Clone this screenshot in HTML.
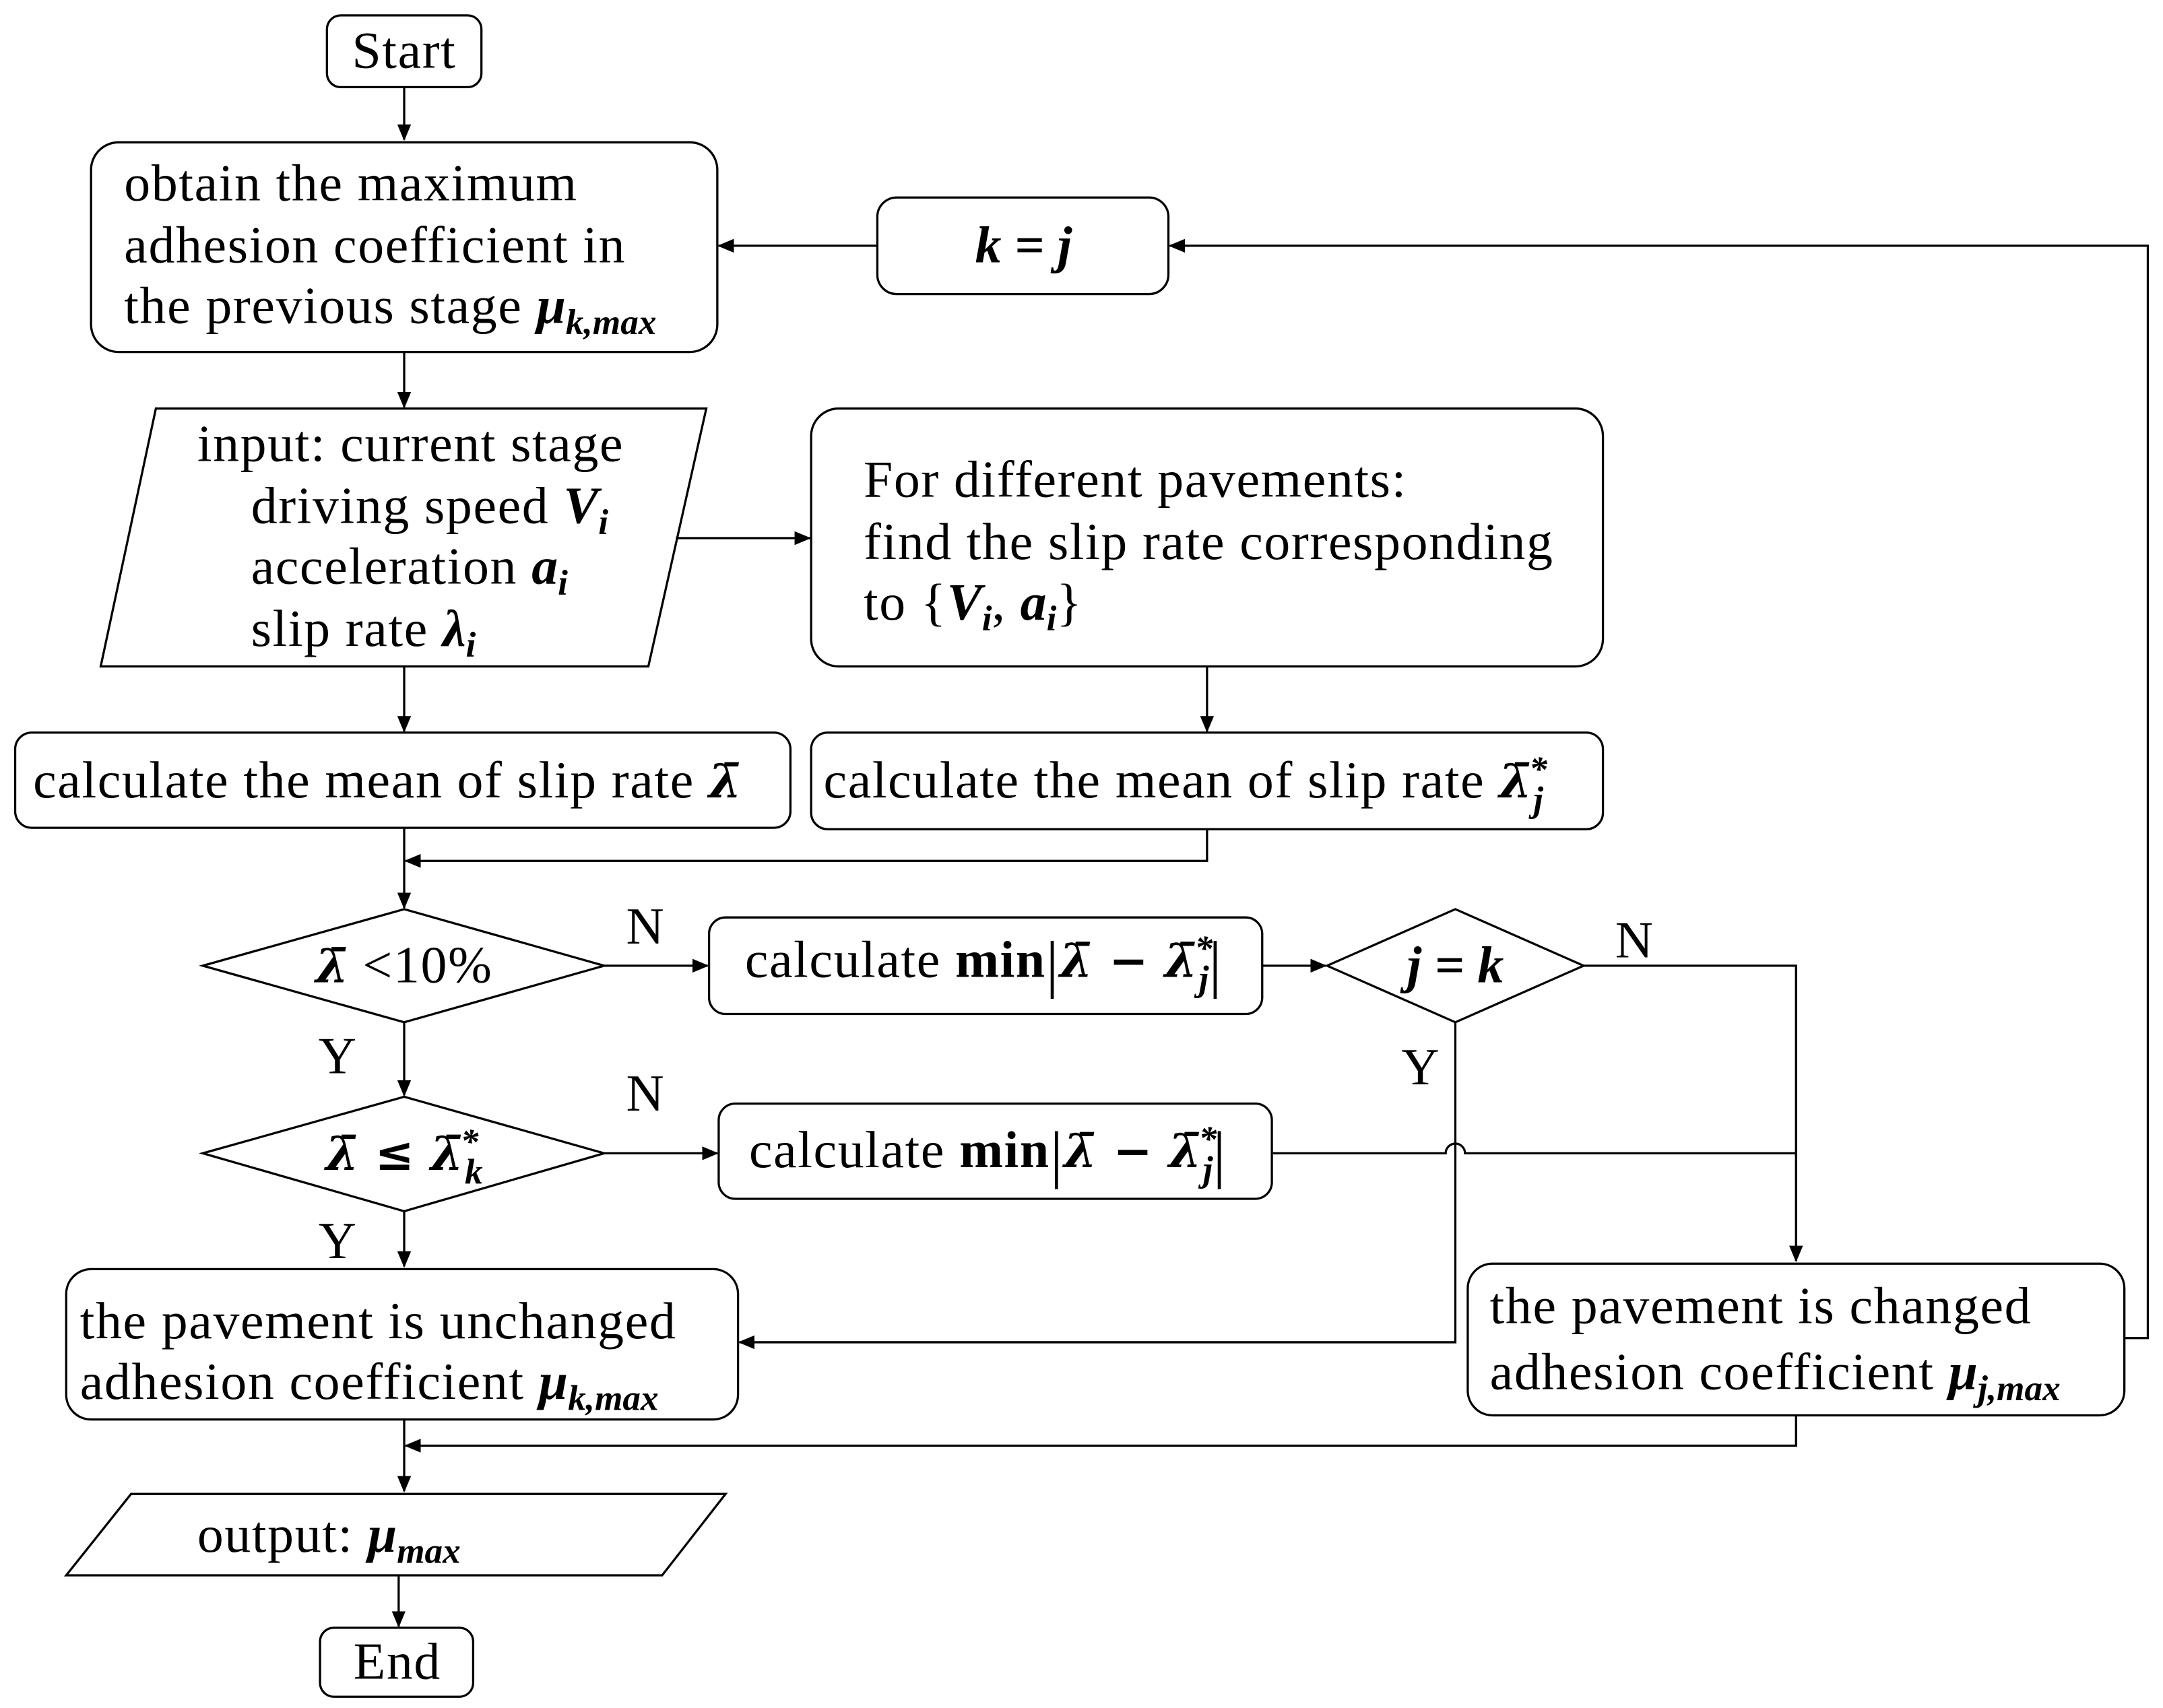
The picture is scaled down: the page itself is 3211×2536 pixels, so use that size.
<!DOCTYPE html>
<html><head><meta charset="utf-8">
<style>
html,body{margin:0;padding:0;background:#fff;}
svg{display:block;}
text{font-family:"Liberation Serif","DejaVu Serif",serif;font-size:38px;letter-spacing:0.8px;fill:#000;}
.m{font-style:italic;font-weight:bold;letter-spacing:0;}
.l{font-family:"DejaVu Serif",serif;font-style:italic;font-weight:bold;letter-spacing:0;font-size:34px;}
.s{font-size:26px;letter-spacing:0;}
</style></head>
<body>
<svg width="3211" height="2536" viewBox="0 0 1568 1238" xmlns="http://www.w3.org/2000/svg">
<defs>
<marker id="a" markerWidth="12" markerHeight="10" refX="11" refY="5" orient="auto" markerUnits="userSpaceOnUse">
<path d="M0,0 L12,5 L0,10 z" fill="#000"/>
</marker>
</defs>
<g fill="none" stroke="#000" stroke-width="1.6">
<rect x="237" y="11" width="112" height="52" rx="10"/>
<rect x="66" y="103" width="454" height="152" rx="20"/>
<rect x="636" y="143" width="211" height="70" rx="14"/>
<polygon points="113,296 512,296 470,483 73,483"/>
<rect x="588" y="296" width="574" height="187" rx="20"/>
<rect x="11" y="531" width="562" height="69" rx="12"/>
<rect x="588" y="531" width="574" height="70" rx="12"/>
<polygon points="147,700 293,659 438,700 293,741"/>
<rect x="514" y="665" width="401" height="70" rx="12"/>
<polygon points="962,700 1055,659 1148,700 1055,741"/>
<polygon points="147,836 293,795 438,836 293,878"/>
<rect x="521" y="800" width="401" height="69" rx="12"/>
<rect x="48" y="920" width="487" height="109" rx="18"/>
<rect x="1064" y="916" width="476" height="110" rx="18"/>
<polygon points="95,1083 526,1083 480,1142 48,1142"/>
<rect x="232" y="1180" width="111" height="50" rx="10"/>
</g>
<g fill="none" stroke="#000" stroke-width="1.6" marker-end="url(#a)">
<path d="M293,63 V101"/>
<path d="M636,178 H521"/>
<path d="M1540,970 H1557 V178 H848"/>
<path d="M293,255 V295"/>
<path d="M490,390 H587"/>
<path d="M293,483 V530"/>
<path d="M875,483 V530"/>
<path d="M875,601 V624 H294"/>
<path d="M293,600 V658"/>
<path d="M438,700 H513"/>
<path d="M915,700 H961"/>
<path d="M1148,700 H1302 V914"/>
<path d="M1055,741 V973 H536"/>
<path d="M293,741 V794"/>
<path d="M438,836 H520"/>
<path d="M293,878 V918"/>
<path d="M293,1029 V1081"/>
<path d="M1302,1026 V1048 H294"/>
<path d="M289,1142 V1179"/>
</g>
<path d="M922,836 H1048 A7,7 0 0 1 1062,836 H1302" fill="none" stroke="#000" stroke-width="1.6"/>

<text x="293" y="49" text-anchor="middle">Start</text>
<text x="90" y="145">obtain the maximum</text>
<text x="90" y="190">adhesion coefficient in</text>
<text x="90" y="234">the previous stage <tspan class="m">μ</tspan><tspan class="m s" dy="8">k,max</tspan></text>
<text x="742" y="190" text-anchor="middle" class="m">k = j</text>
<text x="143" y="334">input: current stage</text>
<text x="182" y="379">driving speed <tspan class="m">V</tspan><tspan class="m s" dy="8">i</tspan></text>
<text x="182" y="423">acceleration <tspan class="m">a</tspan><tspan class="m s" dy="8">i</tspan></text>
<text x="182" y="468">slip rate <tspan class="m">λ</tspan><tspan class="m s" dy="8">i</tspan></text>
<text x="626" y="360">For different pavements:</text>
<text x="626" y="405">find the slip rate corresponding</text>
<text x="626" y="449">to {<tspan class="m">V</tspan><tspan class="m s" dy="8">i</tspan><tspan dy="-8">, </tspan><tspan class="m">a</tspan><tspan class="m s" dy="8">i</tspan><tspan dy="-8">}</tspan></text>
<text x="24" y="578">calculate the mean of slip rate <tspan class="l">λ̄</tspan></text>
<text x="597" y="578">calculate the mean of slip rate <tspan class="l">λ̄</tspan><tspan class="m s" dx="-2" dy="-12">*</tspan><tspan class="m s" dx="-10" dy="22">j</tspan></text>
<text x="293" y="712" text-anchor="middle"><tspan class="l">λ̄</tspan> &lt;10%</text>
<text x="468" y="684" text-anchor="middle">N</text>
<text x="540" y="708">calculate <tspan font-weight="bold">min</tspan><tspan font-size="46" dy="6">|</tspan><tspan class="l" dy="-6">λ̄ − λ̄</tspan><tspan class="m s" dx="-2" dy="-12">*</tspan><tspan class="m s" dx="-10" dy="22">j</tspan><tspan font-size="46" dy="-4">|</tspan></text>
<text x="1055" y="712" text-anchor="middle" class="m">j = k</text>
<text x="1185" y="694" text-anchor="middle">N</text>
<text x="1030" y="786" text-anchor="middle">Y</text>
<text x="245" y="778" text-anchor="middle">Y</text>
<text x="293" y="848" text-anchor="middle"><tspan class="l">λ̄ ≤ λ̄</tspan><tspan class="m s" dx="-2" dy="-12">*</tspan><tspan class="m s" dx="-10" dy="22">k</tspan></text>
<text x="468" y="805" text-anchor="middle">N</text>
<text x="543" y="846">calculate <tspan font-weight="bold">min</tspan><tspan font-size="46" dy="6">|</tspan><tspan class="l" dy="-6">λ̄ − λ̄</tspan><tspan class="m s" dx="-2" dy="-12">*</tspan><tspan class="m s" dx="-10" dy="22">j</tspan><tspan font-size="46" dy="-4">|</tspan></text>
<text x="245" y="912" text-anchor="middle">Y</text>
<text x="58" y="970">the pavement is unchanged</text>
<text x="58" y="1014">adhesion coefficient <tspan class="m">μ</tspan><tspan class="m s" dy="8">k,max</tspan></text>
<text x="1080" y="959">the pavement is changed</text>
<text x="1080" y="1007">adhesion coefficient <tspan class="m">μ</tspan><tspan class="m s" dy="8">j,max</tspan></text>
<text x="143" y="1125">output: <tspan class="m">μ</tspan><tspan class="m s" dy="8">max</tspan></text>
<text x="288" y="1217" text-anchor="middle">End</text>
</svg>
</body></html>
